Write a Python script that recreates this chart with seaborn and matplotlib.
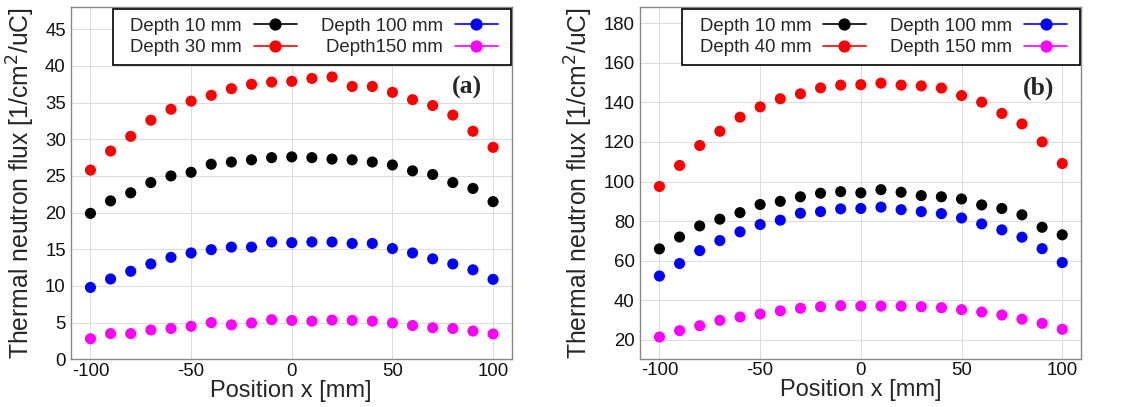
import numpy as np
import pandas as pd
import matplotlib
matplotlib.use("Agg")
import matplotlib.pyplot as plt
from matplotlib.lines import Line2D
from matplotlib.path import Path
import seaborn as sns

positions = list(range(-100, 101, 10))

# Panel (a)
a_labels = ["Depth 10 mm", "Depth 30 mm", "Depth 100 mm", "Depth150 mm"]
a_d10 = [19.9, 21.6, 22.7, 24.1, 25.0, 25.5, 26.6, 26.9, 27.2, 27.5, 27.6,
         27.5, 27.3, 27.2, 26.9, 26.5, 25.7, 25.2, 24.1, 23.3, 21.5]
a_d30 = [25.8, 28.4, 30.4, 32.6, 34.1, 35.2, 36.0, 36.9, 37.5, 37.8, 37.9,
         38.3, 38.5, 37.2, 37.2, 36.4, 35.4, 34.6, 33.3, 31.1, 28.9]
a_d100 = [9.8, 10.95, 12.0, 13.0, 13.9, 14.5, 14.95, 15.3, 15.3, 16.0, 15.9,
          16.0, 16.0, 15.8, 15.8, 15.1, 14.5, 13.7, 13.0, 12.2, 10.9]
a_d150 = [2.8, 3.5, 3.5, 4.0, 4.2, 4.5, 5.0, 4.7, 4.95, 5.4, 5.3,
          5.2, 5.35, 5.3, 5.2, 4.95, 4.6, 4.3, 4.2, 3.85, 3.45]

# Panel (b)
b_labels = ["Depth 10 mm", "Depth 40 mm", "Depth 100 mm", "Depth 150 mm"]
b_d10 = [66.0, 72.0, 77.6, 81.0, 84.3, 88.4, 90.0, 92.3, 94.1, 94.9, 94.3,
         95.9, 94.6, 92.9, 92.3, 91.2, 88.2, 86.4, 83.2, 76.9, 73.1]
b_d40 = [97.5, 108.1, 118.2, 125.4, 132.5, 137.7, 141.8, 144.3, 147.3, 148.7, 148.9,
         149.7, 148.7, 148.3, 147.2, 143.4, 140.1, 134.4, 129.1, 120.0, 109.1]
b_d100 = [52.3, 58.6, 65.1, 70.2, 74.6, 78.3, 80.5, 84.0, 84.8, 86.2, 86.4,
          87.1, 85.8, 84.8, 83.8, 81.6, 78.6, 75.6, 71.9, 66.1, 59.1]
b_d150 = [21.5, 24.7, 27.2, 29.9, 31.6, 33.1, 34.7, 36.0, 36.8, 37.3, 37.1,
          37.1, 37.1, 36.8, 36.3, 35.3, 34.1, 32.6, 30.5, 28.4, 25.4]

colors = ["#000000", "#ff0000", "#0000ff", "#ff00ff"]

sns.set_theme(style="whitegrid")
plt.rcParams['font.family'] = ['Liberation Sans', 'DejaVu Sans']
plt.rcParams['axes.unicode_minus'] = False

fig = plt.figure(figsize=(11.26, 4.07), dpi=100)
ax1 = fig.add_axes([0.0628, 0.1172, 0.3917, 0.8649])
ax2 = fig.add_axes([0.5681, 0.1187, 0.3919, 0.8634])


def make_frame_style(ax, left_frac):
    def style(x0, y0, width, height, mutation_size):
        xl = ax.transAxes.transform((left_frac, 0.0))[0]
        xr = ax.transAxes.transform((1.0, 0.0))[0] - 1
        verts = [(xl, y0), (xr, y0), (xr, y0 + height), (xl, y0 + height), (xl, y0)]
        codes = [Path.MOVETO, Path.LINETO, Path.LINETO, Path.LINETO, Path.CLOSEPOLY]
        return Path(verts, codes)
    return style


def draw(ax, labels, series, ylim, yticks, tag, frame_left):
    frames = []
    for lab, vals in zip(labels, series):
        frames.append(pd.DataFrame({"x": positions, "y": vals, "series": lab}))
    df = pd.concat(frames, ignore_index=True)
    sns.scatterplot(data=df, x="x", y="y", hue="series", hue_order=labels,
                    palette=colors, s=64, linewidth=0, ax=ax, legend=False,
                    zorder=3)
    ax.set_xlim(-109.8, 109.3)
    ax.set_ylim(*ylim)
    ax.set_xticks([-100, -50, 0, 50, 100])
    ax.set_yticks(yticks)
    ax.grid(True, color="#dddddd", linewidth=0.8)
    for sp in ax.spines.values():
        sp.set_color("#888888")
        sp.set_linewidth(1.0)
    ax.tick_params(axis="both", labelsize=13.4, colors="#111111",
                   direction="in", length=3)
    ax.tick_params(axis="x", pad=2.5)
    ax.tick_params(axis="y", pad=3.5)
    ax.set_xlabel("Position x [mm]", fontsize=17, labelpad=0)
    ax.set_ylabel("Thermal neutron flux [1/cm$^2$/uC]", fontsize=17.8,
                  labelpad=6.0)
    handles = [Line2D([0], [0], color=c, marker="o", markersize=7.8, linewidth=1.2)
               for c in colors]
    leg = ax.legend(handles, labels, ncol=2, loc="upper right",
                    bbox_to_anchor=(0.988, 0.994), markerfirst=False,
                    fontsize=13.4, frameon=True, fancybox=False,
                    borderaxespad=0.0, handlelength=2.33, columnspacing=1.3,
                    labelspacing=0.25, borderpad=0.45, handletextpad=0.62)
    frame = leg.get_frame()
    frame.set_edgecolor("#000000")
    frame.set_linewidth(1.2)
    frame.set_alpha(1.0)
    frame.set_boxstyle(make_frame_style(ax, frame_left))
    ax.text(tag[1], tag[2], tag[0], transform=ax.transAxes, ha="center",
            va="center", fontsize=18.5, fontweight="bold",
            family=["Liberation Serif", "DejaVu Serif"])


draw(ax1, a_labels, [a_d10, a_d30, a_d100, a_d150], (0, 48),
     [0, 5, 10, 15, 20, 25, 30, 35, 40, 45], ("(a)", 0.898, 0.771), 0.097)
draw(ax2, b_labels, [b_d10, b_d40, b_d100, b_d150], (10.55, 188),
     [20, 40, 60, 80, 100, 120, 140, 160, 180], ("(b)", 0.905, 0.770), 0.097)

fig.savefig("out.png", dpi=100)
